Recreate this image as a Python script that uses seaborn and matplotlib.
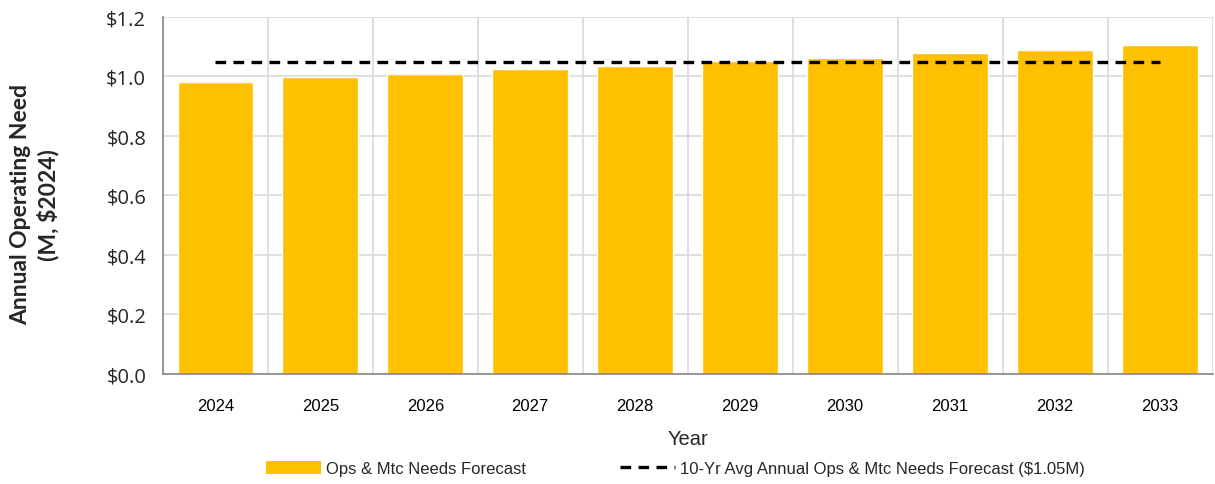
import numpy as np
import pandas as pd
import matplotlib
matplotlib.use("Agg")
import matplotlib.pyplot as plt
import seaborn as sns
from matplotlib.ticker import FixedLocator, FuncFormatter
from matplotlib.patches import Patch
from matplotlib.lines import Line2D

# Forecast data ($M, 2024 dollars)
years = ["2024", "2025", "2026", "2027", "2028", "2029", "2030", "2031", "2032", "2033"]
needs = [0.981, 0.998, 1.007, 1.024, 1.034, 1.051, 1.061, 1.079, 1.088, 1.105]
avg_need = 1.05
bar_label = "Ops & Mtc Needs Forecast"
avg_label = "10-Yr Avg Annual Ops & Mtc Needs Forecast ($1.05M)"
y_ticks = [0.0, 0.2, 0.4, 0.6, 0.8, 1.0, 1.2]

sns.set_style("white")
plt.rcParams["font.family"] = ["Liberation Sans", "DejaVu Sans"]

BAR = "#FFC000"
GRID = "#D9D9D9"
AXIS = "#868686"

df = pd.DataFrame({"Year": years, "Need": needs})
avg_df = pd.DataFrame({"pos": np.arange(len(years)), "avg": [avg_need] * len(years)})

fig = plt.figure(figsize=(12.15, 4.85), dpi=100)
ax = fig.add_axes([0.134, 0.227, 0.864, 0.736])

sns.barplot(data=df, x="Year", y="Need", color=BAR, width=0.72,
            saturation=1, ax=ax, zorder=3)
sns.lineplot(data=avg_df, x="pos", y="avg", color="black", lw=2.4,
             linestyle=(0, (3.2, 2.2)), ax=ax, zorder=4)

ax.set_xlim(-0.5, len(years) - 0.5)
ax.set_ylim(0, 1.2)

# gridlines and tick marks on category boundaries
ax.xaxis.set_minor_locator(FixedLocator(np.arange(-0.5, len(years), 1.0)))
ax.tick_params(axis="x", which="major", length=0, pad=17, labelsize=12, colors="#000000")
ax.tick_params(axis="x", which="minor", length=6, width=1, color=AXIS, direction="out")
ax.grid(True, axis="x", which="minor", color=GRID, lw=1.2, zorder=0)

ax.yaxis.set_major_locator(FixedLocator(y_ticks))
ax.yaxis.set_major_formatter(FuncFormatter(lambda v, p: f"${v:.1f}"))
ax.tick_params(axis="y", length=6, width=1, color=AXIS, direction="out",
               labelsize=14.5, pad=6)
for lab in ax.get_yticklabels():
    lab.set_family(["Open Sans", "DejaVu Sans"])
ax.grid(True, axis="y", color=GRID, lw=1.2, zorder=0)
ax.set_axisbelow(True)

for side in ["top", "right"]:
    ax.spines[side].set_visible(False)
for side in ["left", "bottom"]:
    ax.spines[side].set_color(AXIS)
    ax.spines[side].set_linewidth(1.2)
    ax.spines[side].set_zorder(5)

ax.set_xlabel("Year", fontsize=14.5, labelpad=12)
ax.set_ylabel("Annual Operating Need\n(M, $2024)", fontsize=16.5,
              fontweight="bold", family=["Lato", "DejaVu Sans"],
              linespacing=1.3)
ax.yaxis.set_label_coords(-0.099, 0.476)

handles = [Patch(facecolor=BAR, edgecolor="none"),
           Line2D([0], [0], color="black", lw=2.4, linestyle=(0, (3.2, 2.2)))]
fig.legend(handles, [bar_label, avg_label], loc="center", ncol=2,
           bbox_to_anchor=(0.556, 0.032), frameon=False, fontsize=12,
           handlelength=3.3, handleheight=0.9, columnspacing=5.6, handletextpad=0.3)

fig.savefig("out.png", dpi=100)
